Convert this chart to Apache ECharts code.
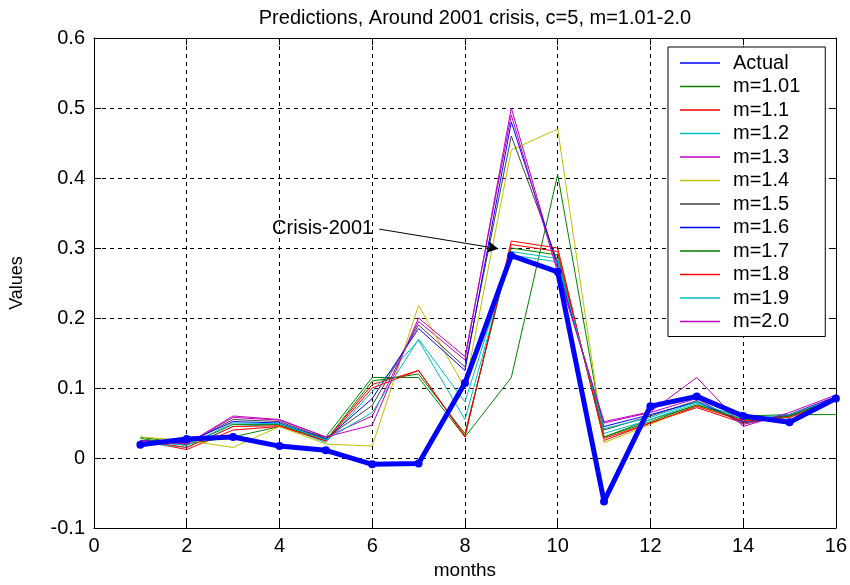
<!DOCTYPE html>
<html>
<head>
<meta charset="utf-8">
<script src="https://cdn.jsdelivr.net/npm/echarts@6/dist/echarts.min.js"></script>
<style>
html,body{margin:0;padding:0;background:#fff;}
#chart{width:850px;height:585px;}
</style>
</head>
<body>
<div id="chart"></div>
<script>
const months = [1,2,3,4,5,6,7,8,9,10,11,12,13,14,15,16];
const actual = [0.019,0.027,0.030,0.017,0.011,-0.009,-0.008,0.107,0.289,0.266,-0.062,0.074,0.088,0.060,0.051,0.085];
const m101 = [0.030,0.020,0.030,0.045,0.030,0.115,0.115,0.030,0.115,0.405,0.030,0.055,0.075,0.060,0.062,0.062];
const m11  = [0.025,0.012,0.040,0.045,0.025,0.105,0.125,0.030,0.310,0.300,0.025,0.050,0.072,0.050,0.060,0.085];
const m12  = [0.022,0.015,0.045,0.048,0.022,0.095,0.168,0.055,0.295,0.285,0.035,0.055,0.078,0.052,0.058,0.082];
const m13  = [0.025,0.020,0.060,0.055,0.030,0.060,0.195,0.140,0.500,0.270,0.050,0.065,0.085,0.048,0.062,0.088];
const m14  = [0.030,0.025,0.015,0.045,0.020,0.017,0.218,0.100,0.440,0.470,0.022,0.048,0.075,0.055,0.058,0.082];
const m15  = [0.025,0.020,0.055,0.052,0.028,0.075,0.190,0.130,0.460,0.280,0.040,0.060,0.082,0.050,0.060,0.086];
const m16  = [0.025,0.022,0.052,0.050,0.027,0.085,0.185,0.125,0.480,0.275,0.045,0.062,0.080,0.052,0.062,0.087];
const m17  = [0.028,0.018,0.048,0.048,0.025,0.110,0.120,0.035,0.300,0.290,0.030,0.052,0.076,0.055,0.060,0.084];
const m18  = [0.025,0.015,0.045,0.046,0.024,0.100,0.125,0.032,0.305,0.295,0.028,0.050,0.074,0.053,0.058,0.083];
const m19  = [0.024,0.018,0.050,0.049,0.026,0.065,0.170,0.080,0.290,0.280,0.042,0.058,0.080,0.056,0.062,0.086];
const m20  = [0.025,0.020,0.058,0.054,0.030,0.047,0.200,0.145,0.490,0.265,0.052,0.066,0.115,0.045,0.065,0.090];

const seriesNames = ['Actual','m=1.01','m=1.1','m=1.2','m=1.3','m=1.4','m=1.5','m=1.6','m=1.7','m=1.8','m=1.9','m=2.0'];
const seriesData = [actual,m101,m11,m12,m13,m14,m15,m16,m17,m18,m19,m20];
const seriesColors = ['#0000ff','#008000','#ff0000','#00bfbf','#bf00bf','#bfbf00','#404040','#0000ff','#008000','#ff0000','#00bfbf','#bf00bf'];

const xTicks = {min:0, max:16, interval:2};
const yTicks = {min:-0.1, max:0.6, interval:0.1};
const annotationText = 'Crisis-2001';
const annotationFrom = [6.15, 0.327];
const annotationTo = [8.72, 0.299];

const FONT = "'Liberation Sans', Arial, Helvetica, sans-serif";

const pairs = arr => arr.map((v,i)=>[months[i], v]);

const series = seriesNames.map((name,i)=>({
  name: name,
  type: 'line',
  data: pairs(seriesData[i]),
  symbol: 'none',
  lineStyle: {width: 1, color: seriesColors[i]},
  itemStyle: {color: seriesColors[i]},
  z: 3
}));

series.push({
  name: 'Actual (bold)',
  type: 'line',
  data: pairs(actual),
  symbol: 'circle',
  symbolSize: 8,
  showSymbol: true,
  lineStyle: {width: 5, color: '#0000ff'},
  itemStyle: {color: '#0000ff'},
  z: 5,
  markLine: {
    silent: true,
    symbol: ['none','arrow'],
    symbolSize: [9, 11],
    lineStyle: {color: '#000', width: 1, type: 'solid'},
    label: {show: true, position: 'start', formatter: annotationText, color: '#000', fontFamily: FONT, fontSize: 20, distance: 6},
    data: [[{coord: annotationFrom}, {coord: annotationTo}]]
  }
});

const axisCommon = {
  axisLine: {show: true, onZero: false, lineStyle: {color: '#000', width: 1}},
  axisTick: {show: true, inside: true, length: 7, lineStyle: {color: '#000'}},
};

const option = {
  animation: false,
  backgroundColor: '#fff',
  title: {
    text: 'Predictions, Around 2001 crisis, c=5, m=1.01-2.0',
    left: 470, top: 3, textAlign: 'center',
    textStyle: {fontFamily: FONT, fontSize: 20, fontWeight: 'normal', color: '#000'}
  },
  grid: {left: 94, right: 12, top: 38, bottom: 55},
  legend: {
    data: seriesNames,
    orient: 'vertical',
    left: 668, top: 47,
    backgroundColor: '#fff',
    borderColor: '#000', borderWidth: 1,
    padding: [5, 25, 4, 12],
    icon: 'rect',
    itemWidth: 40, itemHeight: 1.3, itemGap: 1.5,
    textStyle: {fontFamily: FONT, fontSize: 20, color: '#000', lineHeight: 22, padding: [0,0,0,8]}
  },
  xAxis: [
    Object.assign({
      type: 'value', min: xTicks.min, max: xTicks.max, interval: xTicks.interval,
      name: 'months', nameLocation: 'middle', nameGap: 33,
      nameTextStyle: {fontFamily: FONT, fontSize: 19, color: '#000'},
      axisLabel: {fontFamily: FONT, fontSize: 20, color: '#000', margin: 8},
      splitLine: {show: true, lineStyle: {color: '#000', type: [4,4], width: 1}}
    }, axisCommon),
    Object.assign({
      type: 'value', position: 'top', min: xTicks.min, max: xTicks.max, interval: xTicks.interval,
      axisLabel: {show: false}, splitLine: {show: false}
    }, axisCommon)
  ],
  yAxis: [
    Object.assign({
      type: 'value', min: yTicks.min, max: yTicks.max, interval: yTicks.interval,
      name: 'Values', nameLocation: 'middle', nameGap: 68, nameRotate: 90,
      nameTextStyle: {fontFamily: FONT, fontSize: 18, color: '#000'},
      axisLabel: {fontFamily: FONT, fontSize: 20, color: '#000', margin: 9,
        formatter: v => String(+v.toFixed(1))},
      splitLine: {show: true, lineStyle: {color: '#000', type: [4,4], width: 1}}
    }, axisCommon),
    Object.assign({
      type: 'value', position: 'right', min: yTicks.min, max: yTicks.max, interval: yTicks.interval,
      axisLabel: {show: false}, splitLine: {show: false}
    }, axisCommon)
  ],
  series: series
};

const chart = echarts.init(document.getElementById('chart'), null, {renderer: 'canvas'});
chart.setOption(option);
</script>
</body>
</html>
